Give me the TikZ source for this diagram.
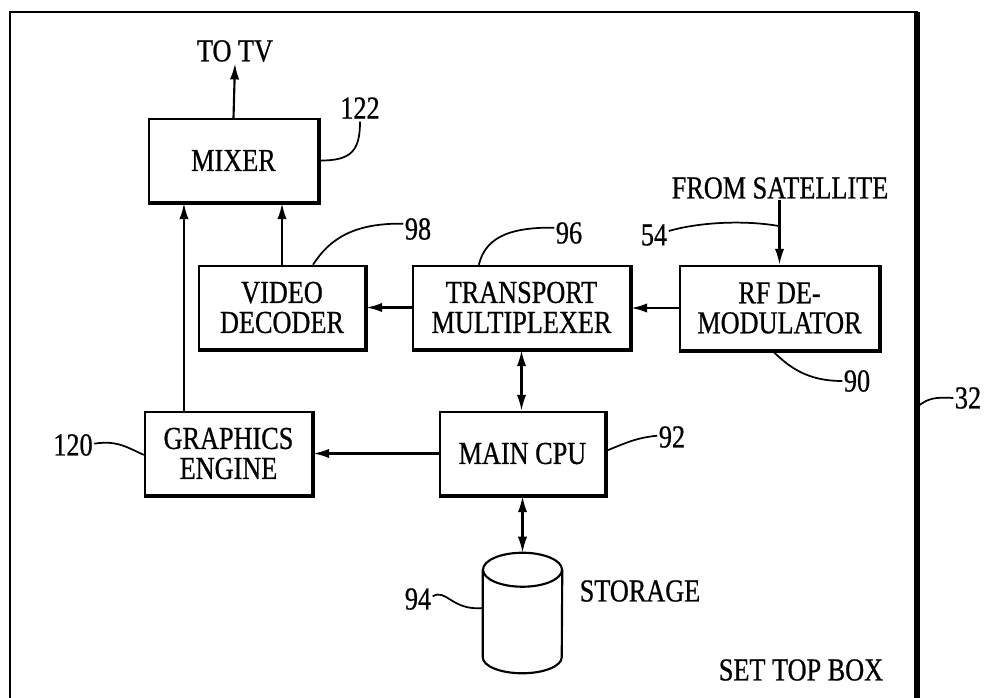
\documentclass[tikz,border=0pt]{standalone}
\usepackage{fontspec}
\setmainfont{Liberation Serif}[FakeStretch=0.82,FakeBold=0.7]
\usetikzlibrary{arrows.meta,calc}
\begin{document}
\begin{tikzpicture}[x=0.75pt,y=-0.75pt,
  every node/.style={font=\fontsize{24}{22.5}\selectfont, inner sep=1pt},
  box/.style 2 args={minimum width=#1*0.75pt, minimum height=#2*0.75pt},
  blk/.style={draw, line width=1.8pt, inner sep=0pt, align=center},
  shd/.style={line width=3pt},
  arr/.style={line width=1.6pt, -{Latex[length=12pt,width=7pt]}},
  darr/.style={line width=1.6pt, {Latex[length=12pt,width=7pt]}-{Latex[length=12pt,width=7pt]}},
  lead/.style={line width=1.3pt},
  cyl/.style={line width=1.6pt}]
\useasboundingbox (0,0) rectangle (991,698);

% outer set top box border
\draw[line width=2.2pt] (10,710) -- (10,12) -- (917,12) -- (917,710);
\draw[line width=4.5pt] (917,12) -- (917,710);

% blocks
\node[blk, box={169}{83}] (mixer) at (233.5,160.5) {MIXER};
\node[blk, box={166}{83}] (vd) at (282,307.5) {VIDEO\\DECODER};
\node[blk, box={217}{83}] (tm) at (521.5,307.5) {TRANSPORT\\MULTIPLEXER};
\node[blk, box={199}{84}] (rf) at (779.5,308) {RF DE-\\MODULATOR};
\node[blk, box={167}{83}] (ge) at (228.5,453.5) {GRAPHICS\\ENGINE};
\node[blk, box={165}{83}] (cpu) at (522.5,453.5) {MAIN CPU};
\node[box={79}{120}, inner sep=0pt] (stor) at (522.5,613) {};

% heavier lower and right edges
\foreach \b in {mixer,vd,tm,rf,ge,cpu}
  \draw[shd] (\b.north east) -- (\b.south east) -- (\b.south west);

% storage cylinder
\draw[cyl] ([yshift=-12.75pt]stor.north) ellipse [x radius=29.625pt, y radius=12.75pt];
\draw[cyl] ([yshift=-12.75pt]stor.north west) -- ([yshift=12pt]stor.south west)
  arc[start angle=180, end angle=360, x radius=29.625pt, y radius=12pt]
  -- ([yshift=-12.75pt]stor.north east);

% texts
\node (totv) at (235,51) {TO TV};
\node (sat) at (780,188) {FROM SATELLITE};
\node (storlbl) at (640,591) {STORAGE};
\node (stb) at (801,670) {SET TOP BOX};

% reference numerals
\node (l122) at (360,108) {122};
\node (l98) at (418,229) {98};
\node (l96) at (569,233) {96};
\node (l54) at (654,235) {54};
\node (l90) at (857,381) {90};
\node (l32) at (968,398) {32};
\node (l92) at (672,437) {92};
\node (l120) at (73,445) {120};
\node (l94) at (418,599) {94};

% connectors
\draw[arr] (mixer.north) -- (totv.south);
\draw[arr] ([xshift=-33.4pt]ge.north) -- ([xshift=-33.4pt]ge.north |- mixer.south);
\draw[arr] (vd.north) -- (vd.north |- mixer.south);
\draw[arr] (tm.west) -- (vd.east);
\draw[arr] (rf.west) -- (tm.east |- rf.west);
\draw[arr] (cpu.west) -- (ge.east);
\draw[darr] (tm.south) -- (tm.south |- cpu.north);
\draw[darr] (cpu.south) -- (stor.north);
\draw[arr] (rf.north |- sat.south) -- (rf.north);

% leader lines
\coordinate (j54) at ($(rf.north |- sat.south)!0.4!(rf.north)$);
\coordinate (b32) at (917,407);
\draw[lead] (mixer.east) .. controls (352,161) and (360,150) .. ([yshift=-1pt]l122.south);
\draw[lead] ([xshift=23.25pt]vd.north) .. controls (330,238) and (355,223) .. ([yshift=4pt]l98.west);
\draw[lead] ([xshift=-32pt]tm.north) .. controls (485,240) and (505,227) .. ([yshift=4pt]l96.west);
\draw[lead] ([yshift=3pt]l54.east) .. controls (700,222) and (745,220) .. (j54);
\draw[lead] ([xshift=-5pt]rf.south) .. controls (790,368) and (808,381) .. (l90.west);
\draw[lead] (b32) .. controls (928,398) and (935,397) .. (l32.west);
\draw[lead] ([yshift=2pt]cpu.east) .. controls (628,442) and (636,438) .. ([yshift=1pt]l92.west);
\draw[lead] ([yshift=1pt]l120.east) .. controls (118,440) and (128,448) .. ([yshift=-1pt]ge.west);
\draw[lead] ([yshift=2pt]l94.east) .. controls (446,588) and (452,611) .. ([yshift=3.75pt]stor.west);
\end{tikzpicture}
\end{document}
